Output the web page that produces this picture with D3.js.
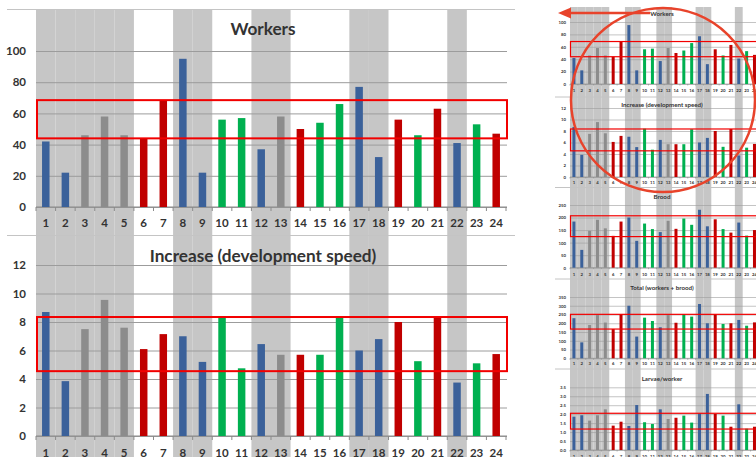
<!DOCTYPE html>
<html>
<head>
<meta charset="utf-8">
<script src="https://cdn.jsdelivr.net/npm/d3@7"></script>
<style>
body { margin: 0; background: #fff; }
svg { display: block; }
text { font-family: Lato, "Open Sans", sans-serif; font-weight: bold; fill: #333; }
</style>
</head>
<body>
<div id="chart"></div>
<script>
// colonies 1..24, colour group of each colony, shaded columns
var colonies = ["1","2","3","4","5","6","7","8","9","10","11","12","13","14","15","16","17","18","19","20","21","22","23","24"];
var group = ["blue","blue","gray","gray","gray","red","red","blue","blue","green","green","blue",
             "gray","red","green","green","blue","blue","red","green","red","blue","green","red"];
var shaded = ["1","2","3","4","5","8","9","12","13","17","18","22"];

var workers  = [42, 22, 46, 58, 46, 44, 68, 95, 22, 56, 57, 37, 58, 50, 54, 66, 77, 32, 56, 46, 63, 41, 53, 47];
var increase = [8.7, 3.85, 7.5, 9.55, 7.6, 6.1, 7.15, 7.0, 5.2, 8.4, 4.75, 6.45, 5.7, 5.7, 5.7, 8.3, 6.0, 6.8, 8.0, 5.25, 8.35, 3.75, 5.1, 5.75];
var brood    = [184, 71, 147, 191, 157, 127, 184, 200, 107, 176, 154, 142, 187, 155, 196, 171, 231, 165, 193, 154, 140, 180, 128, 150];
var total    = [229, 91, 190, 247, 204, 167, 251, 300, 124, 232, 213, 177, 247, 203, 251, 238, 310, 200, 251, 196, 200, 219, 186, 205];
var larvae   = [1.86, 1.94, 1.64, 1.94, 2.27, 1.36, 1.58, 1.34, 2.51, 1.55, 1.45, 2.27, 1.73, 1.80, 1.92, 1.53, 2.03, 3.13, 2.01, 1.92, 1.30, 2.55, 1.19, 1.30];

// the red "normal range" boxes
var workersBand  = [44, 68.5];
var increaseBand = [4.55, 8.35];
var broodBand    = [124, 207];
var totalBand    = [167, 251];
var larvaeBand   = [1.17, 2.05];

var palette = { blue: "#3b619a", gray: "#8c8c8c", red: "#c00000", green: "#00b050" };

var W = 756, H = 457;
var svg = d3.select("#chart").append("svg").attr("width", W).attr("height", H);

function drawSet(s) {
    var x = d3.scaleBand().domain(colonies).range(s.xr);
    var bw = x.bandwidth();
    var g = svg.append("g");

    g.selectAll("rect.shade").data(shaded).join("rect")
        .attr("class", "shade")
        .attr("x", function(d) { return x(d); })
        .attr("width", bw)
        .attr("y", s.top)
        .attr("height", H - s.top)
        .attr("fill", "#c6c6c6");

    s.panels.forEach(function(p) {
        var y = d3.scaleLinear().domain(p.domain).range([p.y0, p.y1]);
        var pg = g.append("g");

        pg.append("g")
            .attr("transform", "translate(" + s.xr[0] + ",0)")
            .call(d3.axisLeft(y).tickValues(p.ticks).tickFormat(p.fmt)
                .tickSize(-(s.gridEnd - s.xr[0])).tickPadding(s.pad))
            .call(function(a) { a.select(".domain").remove(); })
            .call(function(a) { a.selectAll("line").attr("stroke", "#9c9c9c").attr("stroke-width", s.gridW); })
            .call(function(a) { a.selectAll("text").style("font-size", s.fs + "px"); });

        // baseline with little ticks between colonies
        pg.append("line")
            .attr("x1", s.xr[0]).attr("x2", s.gridEnd)
            .attr("y1", y(0)).attr("y2", y(0))
            .attr("stroke", "#8a8a8a").attr("stroke-width", s.gridW);
        pg.selectAll("line.tk").data(colonies.concat(["end"])).join("line")
            .attr("class", "tk")
            .attr("x1", function(d) { return d == "end" ? s.xr[1] : x(d); })
            .attr("x2", function(d) { return d == "end" ? s.xr[1] : x(d); })
            .attr("y1", y(0)).attr("y2", y(0) + s.tick)
            .attr("stroke", "#8a8a8a").attr("stroke-width", s.gridW);

        pg.selectAll("rect.bar").data(p.values).join("rect")
            .attr("class", "bar")
            .attr("x", function(d, i) { return x(colonies[i]) + (bw - s.barW) / 2; })
            .attr("width", s.barW)
            .attr("y", function(d) { return y(d); })
            .attr("height", function(d) { return y(0) - y(d); })
            .attr("fill", function(d, i) { return palette[group[i]]; });

        pg.selectAll("text.xl").data(colonies).join("text")
            .attr("class", "xl")
            .attr("x", function(d) { return x(d) + bw / 2; })
            .attr("y", p.labelY)
            .attr("text-anchor", "middle")
            .attr("dominant-baseline", "central")
            .style("font-size", s.fs + "px")
            .text(function(d) { return d; });

        pg.append("rect")
            .attr("x", s.boxX[0])
            .attr("width", s.boxX[1] - s.boxX[0])
            .attr("y", y(p.band[1]))
            .attr("height", y(p.band[0]) - y(p.band[1]))
            .attr("fill", "none")
            .attr("stroke", "#f20000")
            .attr("stroke-width", s.boxW);

        pg.append("text")
            .attr("x", s.titleX)
            .attr("y", p.titleY)
            .attr("text-anchor", "middle")
            .attr("dominant-baseline", "central")
            .style("font-size", s.titleFs + "px")
            .text(p.title);
    });

    s.seps.forEach(function(yy) {
        g.append("line").attr("x1", s.sepX[0]).attr("x2", s.sepX[1])
            .attr("y1", yy).attr("y2", yy)
            .attr("stroke", "#c4c4c4").attr("stroke-width", 1);
    });
}

var f0 = d3.format("d"), f1 = d3.format(".1f");

// large charts on the left
drawSet({
    xr: [36, 506], gridEnd: 507, top: 10, fs: 11.5, titleFs: 17.2, titleX: 263,
    barW: 7.5, pad: 10, tick: 4, gridW: 1, boxX: [37, 507], boxW: 2,
    seps: [9.5, 235.5], sepX: [7, 515],
    panels: [
        { values: workers, title: "Workers", domain: [0, 100], y0: 207, y1: 51,
          ticks: d3.range(0, 101, 20), fmt: f0, titleY: 28, labelY: 222, band: workersBand },
        { values: increase, title: "Increase (development speed)", domain: [0, 12], y0: 436, y1: 265,
          ticks: d3.range(0, 13, 2), fmt: f0, titleY: 255, labelY: 452, band: increaseBand }
    ]
});

// small five-panel overview on the right
drawSet({
    xr: [570, 758.4], gridEnd: 760, top: 7, fs: 4.3, titleFs: 6.2, titleX: 662,
    barW: 3, pad: 4, tick: 1.5, gridW: 0.6, boxX: [570.5, 760], boxW: 1.2,
    seps: [97, 187.5, 279, 369], sepX: [555, 756],
    panels: [
        { values: workers, title: "Workers", domain: [0, 100], y0: 84, y1: 22,
          ticks: d3.range(0, 101, 20), fmt: f0, titleY: 13, labelY: 90, band: workersBand },
        { values: increase, title: "Increase (development speed)", domain: [0, 12], y0: 177, y1: 108,
          ticks: d3.range(0, 13, 2), fmt: f0, titleY: 104, labelY: 182, band: increaseBand },
        { values: brood, title: "Brood", domain: [0, 250], y0: 267.7, y1: 205,
          ticks: d3.range(0, 251, 50), fmt: f0, titleY: 196, labelY: 274, band: broodBand },
        { values: total, title: "Total (workers + brood)", domain: [0, 350], y0: 358.3, y1: 297,
          ticks: d3.range(0, 351, 50), fmt: f0, titleY: 287, labelY: 363, band: totalBand },
        { values: larvae, title: "Larvae/worker", domain: [0, 3.5], y0: 450, y1: 387.3,
          ticks: d3.range(0, 3.51, 0.5), fmt: f1, titleY: 378, labelY: 456, band: larvaeBand }
    ]
});

// highlight circle and arrow pointing back to the large charts
svg.append("circle")
    .attr("cx", 663).attr("cy", 100).attr("r", 92)
    .attr("fill", "none").attr("stroke", "#e8432b").attr("stroke-width", 2.5);
svg.append("line")
    .attr("x1", 568).attr("x2", 650).attr("y1", 13).attr("y2", 13)
    .attr("stroke", "#e8432b").attr("stroke-width", 2.5);
svg.append("path")
    .attr("d", "M558,13 L571,7.5 L571,18.5 Z")
    .attr("fill", "#e8432b");
</script>
</body>
</html>
